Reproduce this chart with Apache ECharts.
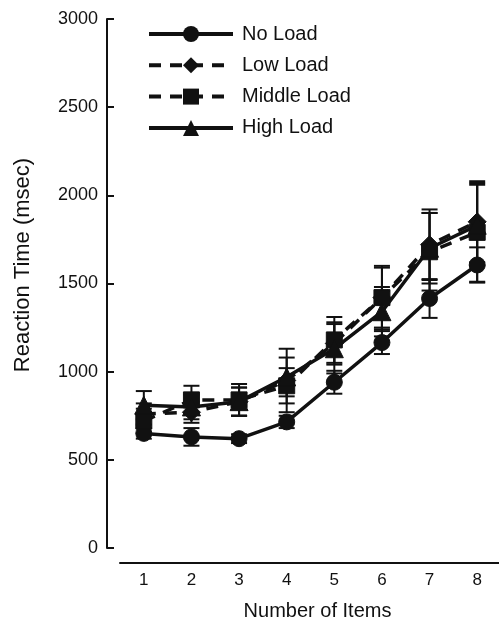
<!DOCTYPE html>
<html>
<head>
<meta charset="utf-8">
<script src="https://cdn.jsdelivr.net/npm/echarts@6/dist/echarts.min.js"></script>
<style>
  html, body { margin: 0; padding: 0; background: #fff; }
  #main { width: 499px; height: 620px; }
</style>
</head>
<body>
<div id="main"></div>
<script>
// values
var items = ['1', '2', '3', '4', '5', '6', '7', '8'];
var yTicks = [0, 500, 1000, 1500, 2000, 2500, 3000];

var noLoad     = [650, 630, 620, 715, 940, 1165, 1415, 1605];
var noLoadErr  = [30, 50, 25, 35, 65, 65, 110, 100];
var lowLoad    = [760, 770, 830, 950, 1160, 1420, 1720, 1850];
var lowLoadErr = [60, 60, 80, 180, 120, 170, 200, 230];
var midLoad    = [720, 840, 840, 920, 1180, 1420, 1680, 1790];
var midLoadErr = [70, 80, 90, 100, 130, 180, 220, 280];
var highLoad   = [810, 800, 830, 970, 1130, 1340, 1700, 1830];
var highLoadErr = [80, 70, 80, 110, 140, 140, 200, 230];

var ink = '#111';
var font = 'Liberation Sans, Arial, sans-serif';

function errBars(vals, errs) {
  return {
    type: 'custom',
    silent: true,
    z: 1,
    data: vals.map(function (v, i) { return [i, v - errs[i], v + errs[i]]; }),
    renderItem: function (params, api) {
      var lo = api.coord([api.value(0), api.value(1)]);
      var hi = api.coord([api.value(0), api.value(2)]);
      var w = 8;
      var st = { stroke: ink, lineWidth: 2 };
      return {
        type: 'group',
        children: [
          { type: 'line', shape: { x1: lo[0], y1: lo[1], x2: hi[0], y2: hi[1] }, style: st },
          { type: 'line', shape: { x1: lo[0] - w, y1: lo[1], x2: lo[0] + w, y2: lo[1] }, style: st },
          { type: 'line', shape: { x1: hi[0] - w, y1: hi[1], x2: hi[0] + w, y2: hi[1] }, style: st }
        ]
      };
    }
  };
}

function line(name, vals, symbol, size, dashed) {
  return {
    name: name,
    type: 'line',
    data: vals,
    symbol: symbol,
    symbolSize: size,
    z: 3,
    lineStyle: { color: ink, width: 3.5, type: dashed ? [12, 9] : 'solid' },
    itemStyle: { color: ink, borderColor: ink },
    emphasis: { disabled: true }
  };
}

var chart = echarts.init(document.getElementById('main'));
chart.setOption({
  animation: false,
  backgroundColor: '#fff',
  textStyle: { fontFamily: font, color: ink },
  grid: { left: 120, top: 19, width: 381, height: 529, containLabel: false, outerBoundsMode: 'none' },
  legend: {
    orient: 'vertical',
    left: 147,
    top: 24,
    padding: 0,
    itemWidth: 84,
    itemHeight: 20,
    itemGap: 11.3,
    lineStyle: { width: 4 },
    textStyle: { fontSize: 20, color: ink, fontFamily: font, padding: [0, 0, 0, 4] },
    data: ['No Load', 'Low Load', 'Middle Load', 'High Load']
  },
  graphic: [{
    type: 'text',
    x: 23,
    y: 265,
    rotation: Math.PI / 2,
    style: {
      text: 'Reaction Time (msec)',
      fontSize: 22,
      fontFamily: font,
      fill: ink,
      align: 'center',
      verticalAlign: 'middle'
    }
  }],
  xAxis: {
    type: 'category',
    data: items,
    boundaryGap: true,
    offset: 15,
    name: 'Number of Items',
    nameLocation: 'middle',
    nameGap: 38,
    nameTextStyle: { fontSize: 20, color: ink, fontFamily: font, padding: [0, 0, 0, 14] },
    axisLine: { onZero: false, lineStyle: { color: ink, width: 2 } },
    axisTick: { alignWithLabel: true, inside: true, length: 7, lineStyle: { color: ink, width: 2 } },
    axisLabel: { fontSize: 17, color: ink, margin: 9 },
    splitLine: { show: false }
  },
  yAxis: {
    type: 'value',
    min: 0,
    max: 3000,
    interval: 500,
    offset: 13,
    axisLine: { show: true, onZero: false, lineStyle: { color: ink, width: 2 } },
    axisTick: { show: true, inside: true, length: 7, lineStyle: { color: ink, width: 2 } },
    axisLabel: {
      fontSize: 18, color: ink, margin: 9,
      formatter: function (v) { return yTicks.indexOf(v) >= 0 ? String(v) : ''; }
    },
    splitLine: { show: false }
  },
  series: [
    errBars(noLoad, noLoadErr),
    errBars(lowLoad, lowLoadErr),
    errBars(midLoad, midLoadErr),
    errBars(highLoad, highLoadErr),
    line('No Load', noLoad, 'circle', 16, false),
    line('Low Load', lowLoad, 'diamond', 18, true),
    line('Middle Load', midLoad, 'rect', 16, true),
    line('High Load', highLoad, 'triangle', 18, false)
  ]
});
</script>
</body>
</html>
